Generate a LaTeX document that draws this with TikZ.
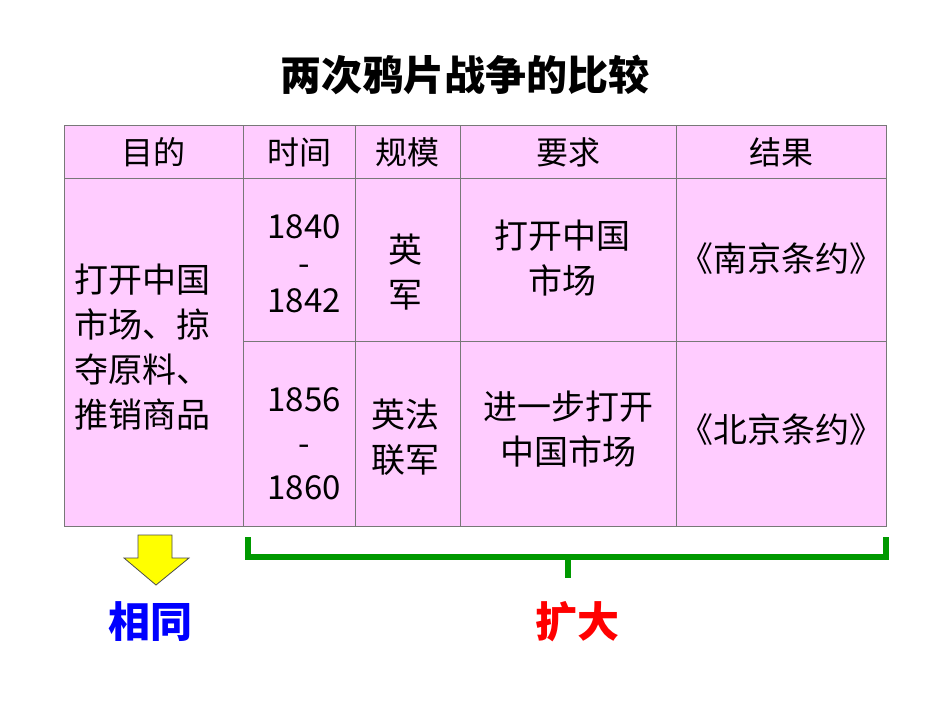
\documentclass[tikz,border=0pt]{standalone}
\usepackage{fontspec}
\setmainfont{Noto Sans CJK SC}
\usetikzlibrary{positioning,calc}
\definecolor{cellpink}{RGB}{255,204,255}
\definecolor{gridgray}{RGB}{120,120,120}
\definecolor{bracketgreen}{RGB}{0,153,0}
\definecolor{arrowyellow}{RGB}{255,255,0}
\tikzset{
  cell/.style={font=\fontsize{34}{40}\selectfont, align=center, inner sep=0pt},
  head/.style={font=\fontsize{32}{38}\selectfont, inner sep=0pt},
  grid/.style={draw=gridgray, line width=0.8pt},
  tag/.style={font=\fontsize{42}{46}\selectfont\bfseries, inner sep=0pt}
}
\begin{document}
\begin{tikzpicture}[x=1pt,y=-1pt]
    \useasboundingbox (0,0) rectangle (950,713);
    \fill[white] (0,0) rectangle (950,713);
    % Title
    \node[font=\fontsize{41}{46}\selectfont\bfseries] (title) at (465,75) {两次鸦片战争的比较};

    % Table body
    \fill[cellpink] (64,125) rectangle (886,526);
    \draw[grid] (64,125) rectangle (886,526);
    \draw[grid] (64,178) -- (886,178);
    \draw[grid] (243,341) -- (886,341);
    \foreach \x in {243,355,460,676} {
        \draw[grid] (\x,125) -- (\x,526);
    }

    % Header
    \foreach \x/\t/\n in {153.5/目的/hA, 299/时间/hB, 407.5/规模/hC, 568/要求/hD, 781/结果/hE} {
        \node[head] (\n) at (\x,152) {\t};
    }

    % Purpose column
    \node[cell, align=left, anchor=west, font=\fontsize{34}{45}\selectfont] (purpose) at (74,347) {打开中国\\市场、掠\\夺原料、\\推销商品};

    % First war
    \node[cell, font=\fontsize{33}{37}\selectfont] (timeA) at (304,264) {1840\\-\\1842};
    \node[cell, font=\fontsize{34}{45}\selectfont] (armyA) at (405,272) {英\\军};
    \node[cell, font=\fontsize{34}{45}\selectfont] (demandA) at (562,258) {打开中国\\市场};
    \node[cell] (treatyA) at (781,259) {《南京条约》};

    % Second war
    \node[cell, font=\fontsize{33}{44}\selectfont] (timeB) at (304,444) {1856\\-\\1860};
    \node[cell, font=\fontsize{34}{45}\selectfont] (armyB) at (405,437) {英法\\联军};
    \node[cell, font=\fontsize{34}{45}\selectfont] (demandB) at (568,429) {进一步打开\\中国市场};
    \node[cell] (treatyB) at (781,430) {《北京条约》};

    % Yellow arrow
    \filldraw[fill=arrowyellow, draw=black!70, line width=0.8pt]
        (138,535) -- (172,535) -- (172,558) -- (189,558) -- (156,585)
        -- (124,558) -- (138,558) -- cycle;

    % Green bracket
    \coordinate (bl) at (248,537);
    \coordinate (br) at (886,537);
    \coordinate (bm) at (568,557);
    \draw[bracketgreen, line width=6pt] (bl) |- (bm) -| (br);
    \draw[bracketgreen, line width=6pt] (bm) -- ++(0,21);

    % Labels
    \node[tag, text=blue] (same) at (150,622) {相同};
    \node[tag, text=red] (wider) at (577,622) {扩大};
\end{tikzpicture}
\end{document}
